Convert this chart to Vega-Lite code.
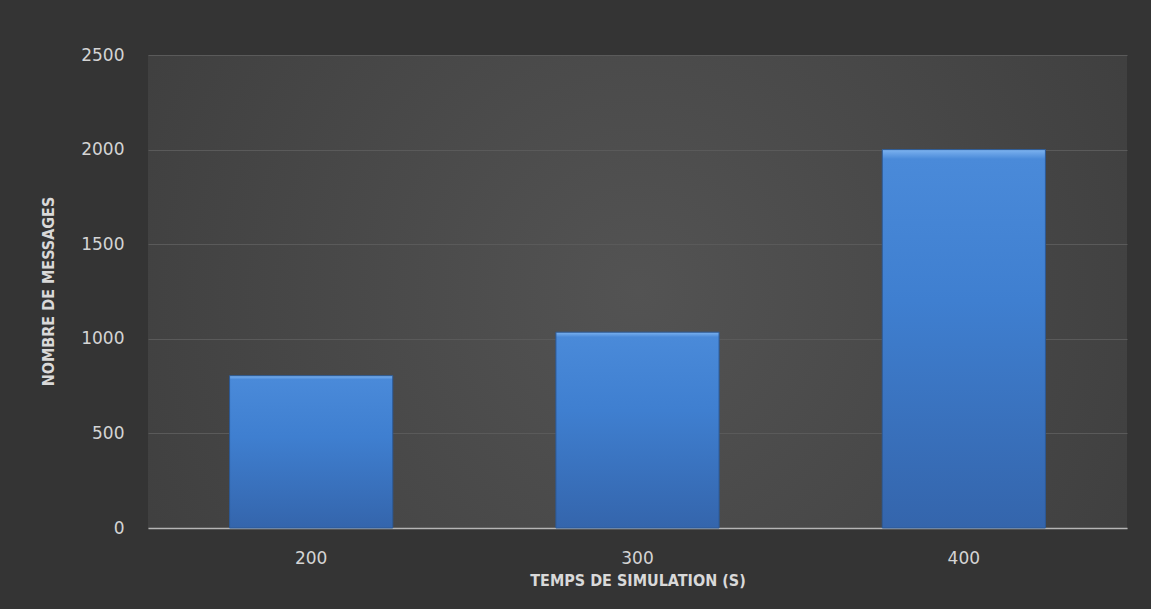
{
  "$schema": "https://vega.github.io/schema/vega-lite/v6.json",
  "width": 979,
  "height": 473,
  "autosize": {"type": "none"},
  "padding": {"left": 148, "top": 55, "right": 24, "bottom": 81},
  "background": "#343434",
  "data": {
    "values": [
      {"temps": "200", "messages": 805},
      {"temps": "300", "messages": 1035},
      {"temps": "400", "messages": 2000}
    ]
  },
  "mark": {
    "type": "bar",
    "fill": {
      "gradient": "linear",
      "x1": 0, "y1": 0, "x2": 0, "y2": 1,
      "stops": [
        {"offset": 0, "color": "#7db3f0"},
        {"offset": 0.025, "color": "#4a8ad9"},
        {"offset": 0.4, "color": "#3f7fd0"},
        {"offset": 1, "color": "#3465ac"}
      ]
    },
    "stroke": "#2c5a96",
    "strokeWidth": 1
  },
  "encoding": {
    "x": {
      "field": "temps",
      "type": "ordinal",
      "scale": {"paddingInner": 0.5, "paddingOuter": 0.25},
      "axis": {
        "title": "TEMPS DE SIMULATION (S)",
        "labelAngle": 0,
        "labelPadding": 22,
        "ticks": false,
        "domainColor": "#b5b5b5",
        "domainWidth": 1.5,
        "titlePadding": 6
      }
    },
    "y": {
      "field": "messages",
      "type": "quantitative",
      "scale": {"domain": [0, 2500]},
      "axis": {
        "title": "NOMBRE DE MESSAGES",
        "values": [0, 500, 1000, 1500, 2000, 2500],
        "format": "d",
        "ticks": false,
        "domain": false,
        "labelPadding": 24,
        "gridColor": "#5a5a5a",
        "gridWidth": 1,
        "titleX": -100,
        "titleY": 236,
        "titleAngle": -90,
        "titleAlign": "center",
        "titleBaseline": "middle"
      }
    }
  },
  "config": {
    "view": {
      "stroke": null,
      "fill": {
        "gradient": "radial",
        "x1": 0.5, "y1": 0.5, "r1": 0,
        "x2": 0.5, "y2": 0.5, "r2": 0.75,
        "stops": [
          {"offset": 0, "color": "#535353"},
          {"offset": 1, "color": "#393939"}
        ]
      }
    },
    "axis": {
      "labelFont": "DejaVu Sans",
      "labelFontSize": 17,
      "labelColor": "#d4d4d4",
      "titleFont": "DejaVu Sans Condensed, Liberation Sans, sans-serif",
      "titleFontSize": 16,
      "titleFontWeight": "bold",
      "titleColor": "#d9d9d9"
    }
  }
}
